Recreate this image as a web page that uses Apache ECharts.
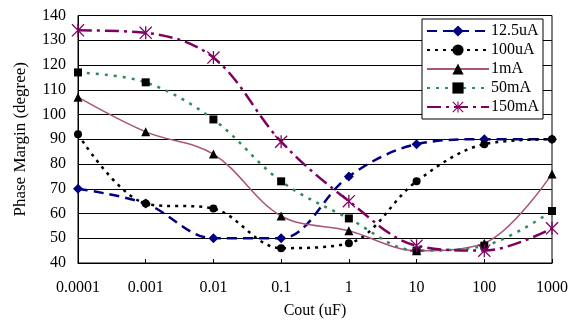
<!DOCTYPE html>
<html><head><meta charset="utf-8">
<script src="https://cdn.jsdelivr.net/npm/echarts@6/dist/echarts.min.js"></script>
<style>html,body{margin:0;padding:0;background:#fff}#c{width:574px;height:323px}</style>
</head><body><div id="c"></div>
<script>
var xValues = [0.0001, 0.001, 0.01, 0.1, 1, 10, 100, 1000];
var xTickLabels = ['0.0001', '0.001', '0.01', '0.1', '1', '10', '100', '1000'];
var seriesNames = ['12.5uA', '100uA', '1mA', '50mA', '150mA'];
var s12_5uA = [70, 64, 50, 50, 75, 88, 90, 90];
var s100uA = [92, 64, 62, 46, 48, 73, 88, 90];
var s1mA = [107, 93, 84, 59, 53, 45, 48, 76];
var s50mA = [117, 113, 98, 73, 58, 45, 47, 61];
var s150mA = [134, 133, 123, 89, 65, 47, 45, 54];

var FONT = '"Liberation Serif", "Times New Roman", serif';
var star = 'path://M9,0 L11,0 L11,20 L9,20 Z M0,1.4 L1.4,0 L20,18.6 L18.6,20 Z M18.6,0 L20,1.4 L1.4,20 L0,18.6 Z';

function pairs(arr){ return arr.map(function(v,i){ return [xValues[i], v]; }); }

var chart = echarts.init(document.getElementById('c'));
chart.setOption({
  animation: false,
  backgroundColor: '#fff',
  grid: {left: 78, right: 22, top: 15.5, bottom: 60, show: true, borderColor: '#000', borderWidth: 1,
         containLabel: false, outerBoundsMode: 'none'},
  legend: {
    orient: 'vertical', left: 422, top: 19,
    backgroundColor: '#fff', borderColor: '#000', borderWidth: 1,
    padding: [4, 4, 4, 4], itemGap: 3, itemWidth: 62, itemHeight: 14,
    textStyle: {fontFamily: FONT, fontSize: 16, color: '#000', padding: [0,0,0,-3]},
    data: seriesNames
  },
  xAxis: {
    type: 'log', logBase: 10, min: 0.0001, max: 1000,
    name: 'Cout (uF)', nameLocation: 'middle', nameGap: 40,
    nameTextStyle: {fontFamily: FONT, fontSize: 16, color: '#000'},
    axisLine: {lineStyle: {color: '#000', width: 1}},
    axisTick: {show: true, inside: true, length: 4, lineStyle: {color: '#000'}},
    minorTick: {show: false},
    splitLine: {show: false},
    axisLabel: {fontFamily: FONT, fontSize: 16, color: '#000', margin: 17,
      formatter: function(v){ var i = Math.round(Math.log10(v)) + 4; return xTickLabels[i] || ''; }}
  },
  yAxis: {
    type: 'value', min: 40, max: 140, interval: 10,
    name: 'Phase Margin (degree)', nameLocation: 'middle', nameGap: 49,
    nameTextStyle: {fontFamily: FONT, fontSize: 17, color: '#000'},
    axisLine: {show: true, lineStyle: {color: '#000', width: 1}},
    axisTick: {show: false},
    splitLine: {show: true, lineStyle: {color: '#000', width: 1}},
    axisLabel: {fontFamily: FONT, fontSize: 16, color: '#000', margin: 12}
  },
  series: [
    {name: '12.5uA', type: 'line', data: pairs(s12_5uA), smooth: 0.35,
     symbol: 'diamond', symbolSize: 10, itemStyle: {color: '#000080'},
     lineStyle: {color: '#000080', width: 2.5, type: [10, 6]}},
    {name: '100uA', type: 'line', data: pairs(s100uA), smooth: 0.35,
     symbol: 'circle', symbolSize: 8, itemStyle: {color: '#000'},
     lineStyle: {color: '#000', width: 2.5, type: [3, 5]}},
    {name: '1mA', type: 'line', data: pairs(s1mA), smooth: 0.35,
     symbol: 'triangle', symbolSize: 9, itemStyle: {color: '#000'},
     lineStyle: {color: '#a8557a', width: 1.5, type: 'solid'}},
    {name: '50mA', type: 'line', data: pairs(s50mA), smooth: 0.35,
     symbol: 'rect', symbolSize: 8, itemStyle: {color: '#000'},
     lineStyle: {color: '#2e8b57', width: 2.5, type: [3, 6]}},
    {name: '150mA', type: 'line', data: pairs(s150mA), smooth: 0.35,
     symbol: star, symbolSize: 13, itemStyle: {color: '#800060'},
     lineStyle: {color: '#800060', width: 2.5, type: [14, 5, 3, 5]}}
  ]
});
</script></body></html>
